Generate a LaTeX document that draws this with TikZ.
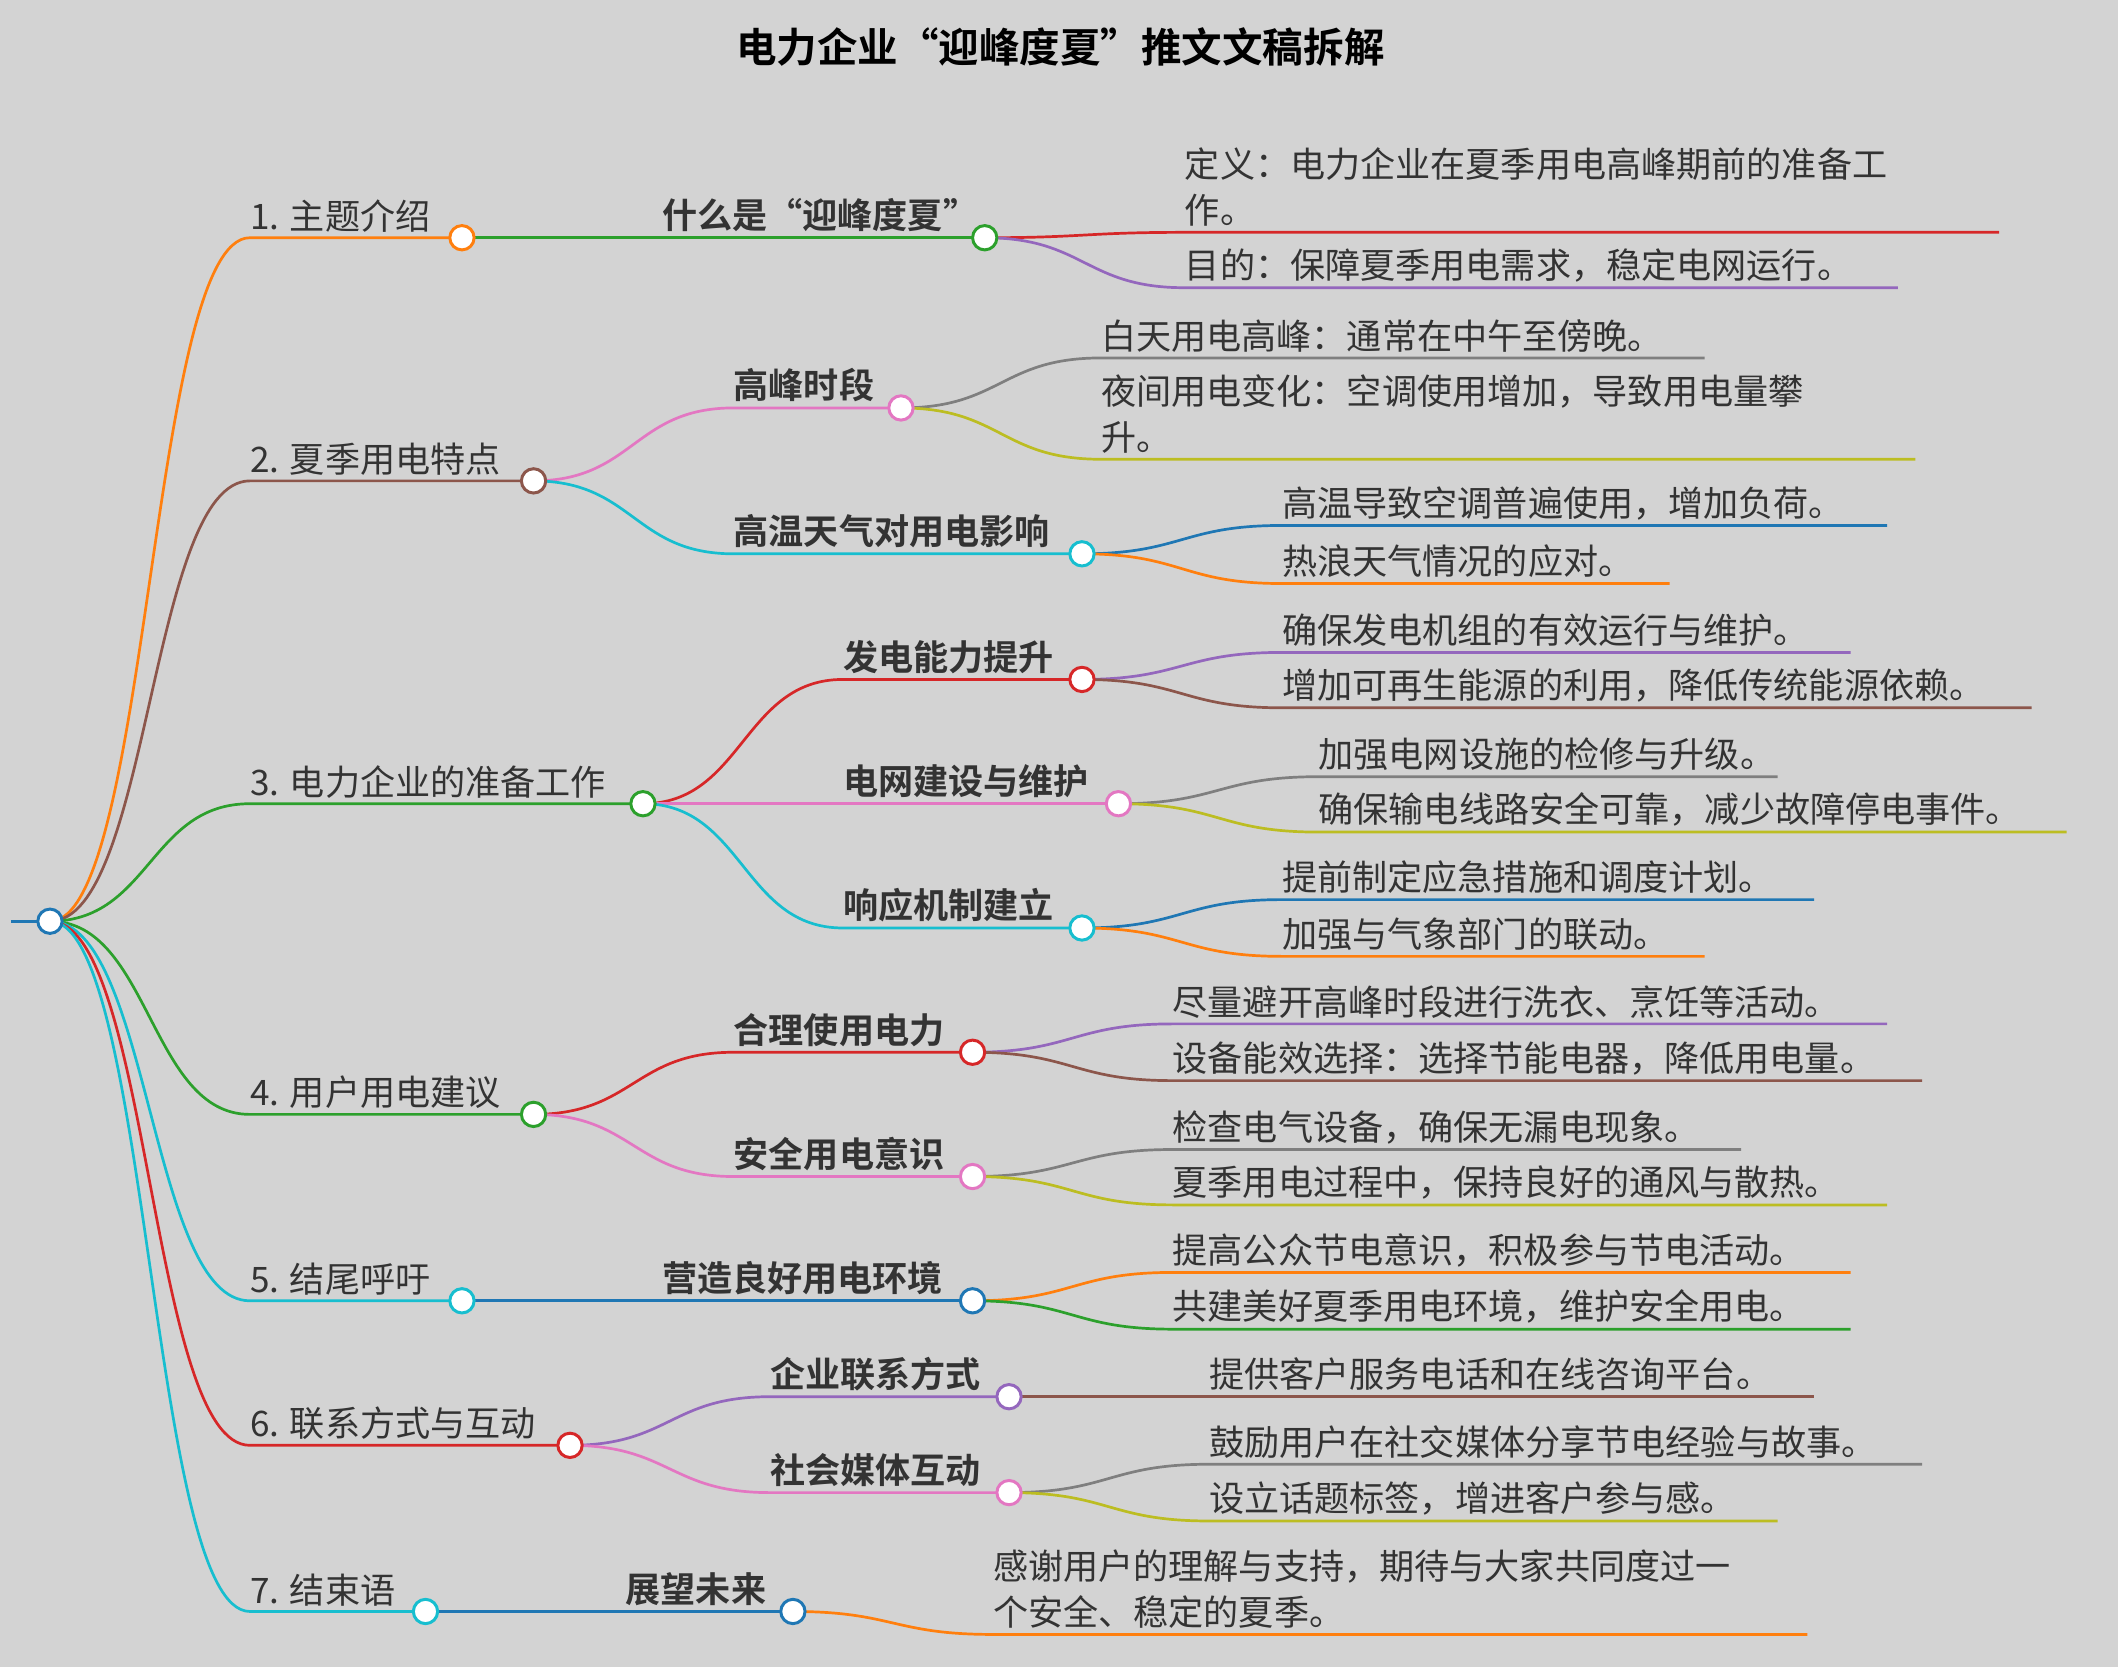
\documentclass[tikz,border=0pt]{standalone}
\usepackage{fontspec}
\setmainfont{Noto Sans CJK SC}[BoldFont={Noto Sans CJK SC Bold}]
\definecolor{cO}{HTML}{FF7F0E}\definecolor{cG}{HTML}{2CA02C}\definecolor{cR}{HTML}{D62728}
\definecolor{cP}{HTML}{9467BD}\definecolor{cB}{HTML}{8C564B}\definecolor{cK}{HTML}{E377C2}
\definecolor{cY}{HTML}{7F7F7F}\definecolor{cL}{HTML}{BCBD22}\definecolor{cC}{HTML}{17BECF}
\definecolor{cU}{HTML}{1F77B4}\definecolor{bg}{HTML}{D3D3D3}\definecolor{tx}{HTML}{333333}
\tikzset{edge/.style={line width=2pt},
 lbl/.style={anchor=south west,inner sep=0pt,text=tx,align=left,font=\fontsize{26}{34}\selectfont},
 dot/.style={circle,draw=#1,fill=white,line width=2.2pt,minimum size=18pt,inner sep=0pt}}
% #1 parent, #2 px, #3 py, #4 sx, #5 y, #6 ex, #7 color, #8 name, #9 text
\newcommand\br[9]{\coordinate (#8s) at (#4,#5);\coordinate (#8) at (#6,#5);
 \draw[#7,edge] (#1) .. controls ({(#2+#4)/2},#3) and ({(#2+#4)/2},#5) .. (#8s) -- (#8);
 \node[lbl] (#8t) at (#4,#5-4) {#9};}
\begin{document}
\begin{tikzpicture}[x=1pt,y=-1pt]
\fill[bg] (0,0) rectangle (1568,1234);
\useasboundingbox (0,0) rectangle (1568,1234);
\node[text=black,font=\fontsize{30}{36}\selectfont\bfseries] (title) at (785,35) {电力企业“迎峰度夏”推文文稿拆解};
\coordinate (root) at (37,682);
\coordinate (rl) at (8,682);
\draw[cU,edge] (rl) -- (root);
% level 1
\br{root}{37}{682}{185}{176}{342}{cO}{a}{1. 主题介绍}
\br{root}{37}{682}{185}{356}{395}{cB}{b}{2. 夏季用电特点}
\br{root}{37}{682}{185}{595}{476}{cG}{c}{3. 电力企业的准备工作}
\br{root}{37}{682}{185}{825}{395}{cG}{d}{4. 用户用电建议}
\br{root}{37}{682}{185}{963}{342}{cC}{e}{5. 结尾呼吁}
\br{root}{37}{682}{185}{1070}{422}{cR}{f}{6. 联系方式与互动}
\br{root}{37}{682}{185}{1193}{315}{cC}{g}{7. 结束语}
% level 2
\br{a}{342}{176}{490}{176}{729}{cG}{a1}{\bfseries 什么是“迎峰度夏”}
\br{b}{395}{356}{543}{302}{667}{cK}{b1}{\bfseries 高峰时段}
\br{b}{395}{356}{543}{410}{801}{cC}{b2}{\bfseries 高温天气对用电影响}
\br{c}{476}{595}{624}{503}{801}{cR}{c1}{\bfseries 发电能力提升}
\br{c}{476}{595}{624}{595}{828}{cK}{c2}{\bfseries 电网建设与维护}
\br{c}{476}{595}{624}{687}{801}{cC}{c3}{\bfseries 响应机制建立}
\br{d}{395}{825}{543}{779}{720}{cR}{d1}{\bfseries 合理使用电力}
\br{d}{395}{825}{543}{871}{720}{cK}{d2}{\bfseries 安全用电意识}
\br{e}{342}{963}{490}{963}{720}{cU}{e1}{\bfseries 营造良好用电环境}
\br{f}{422}{1070}{570}{1034}{747}{cP}{f1}{\bfseries 企业联系方式}
\br{f}{422}{1070}{570}{1105}{747}{cK}{f2}{\bfseries 社会媒体互动}
\br{g}{315}{1193}{463}{1193}{587}{cU}{g1}{\bfseries 展望未来}
% leaves
\br{a1}{729}{176}{877}{172}{1480}{cR}{a11}{定义：电力企业在夏季用电高峰期前的准备工\\作。}
\br{a1}{729}{176}{877}{213}{1405}{cP}{a12}{目的：保障夏季用电需求，稳定电网运行。}
\br{b1}{667}{302}{815}{265}{1262}{cY}{b11}{白天用电高峰：通常在中午至傍晚。}
\br{b1}{667}{302}{815}{340}{1418}{cL}{b12}{夜间用电变化：空调使用增加，导致用电量攀\\升。}
\br{b2}{801}{410}{949}{389}{1397}{cU}{b21}{高温导致空调普遍使用，增加负荷。}
\br{b2}{801}{410}{949}{432}{1236}{cO}{b22}{热浪天气情况的应对。}
\br{c1}{801}{503}{949}{483}{1370}{cP}{c11}{确保发电机组的有效运行与维护。}
\br{c1}{801}{503}{949}{524}{1504}{cB}{c12}{增加可再生能源的利用，降低传统能源依赖。}
\br{c2}{828}{595}{976}{575}{1316}{cY}{c21}{加强电网设施的检修与升级。}
\br{c2}{828}{595}{976}{616}{1530}{cL}{c22}{确保输电线路安全可靠，减少故障停电事件。}
\br{c3}{801}{687}{949}{666}{1343}{cU}{c31}{提前制定应急措施和调度计划。}
\br{c3}{801}{687}{949}{708}{1262}{cO}{c32}{加强与气象部门的联动。}
\br{d1}{720}{779}{868}{758}{1397}{cP}{d11}{尽量避开高峰时段进行洗衣、烹饪等活动。}
\br{d1}{720}{779}{868}{800}{1423}{cB}{d12}{设备能效选择：选择节能电器，降低用电量。}
\br{d2}{720}{871}{868}{851}{1289}{cY}{d21}{检查电气设备，确保无漏电现象。}
\br{d2}{720}{871}{868}{892}{1397}{cL}{d22}{夏季用电过程中，保持良好的通风与散热。}
\br{e1}{720}{963}{868}{942}{1370}{cO}{e11}{提高公众节电意识，积极参与节电活动。}
\br{e1}{720}{963}{868}{984}{1370}{cG}{e12}{共建美好夏季用电环境，维护安全用电。}
\br{f1}{747}{1034}{895}{1034}{1343}{cB}{f11}{提供客户服务电话和在线咨询平台。}
\br{f2}{747}{1105}{895}{1084}{1423}{cY}{f21}{鼓励用户在社交媒体分享节电经验与故事。}
\br{f2}{747}{1105}{895}{1126}{1316}{cL}{f22}{设立话题标签，增进客户参与感。}
\br{g1}{587}{1193}{735}{1210}{1338}{cO}{g11}{感谢用户的理解与支持，期待与大家共同度过一\\个安全、稳定的夏季。}
% dots
\node[dot=cU] at (root) {};
\foreach \n/\c in {a/cO,b/cB,c/cG,d/cG,e/cC,f/cR,g/cC,a1/cG,b1/cK,b2/cC,c1/cR,c2/cK,c3/cC,d1/cR,d2/cK,e1/cU,f1/cP,f2/cK,g1/cU}
  \node[dot=\c] at (\n) {};
\end{tikzpicture}
\end{document}
